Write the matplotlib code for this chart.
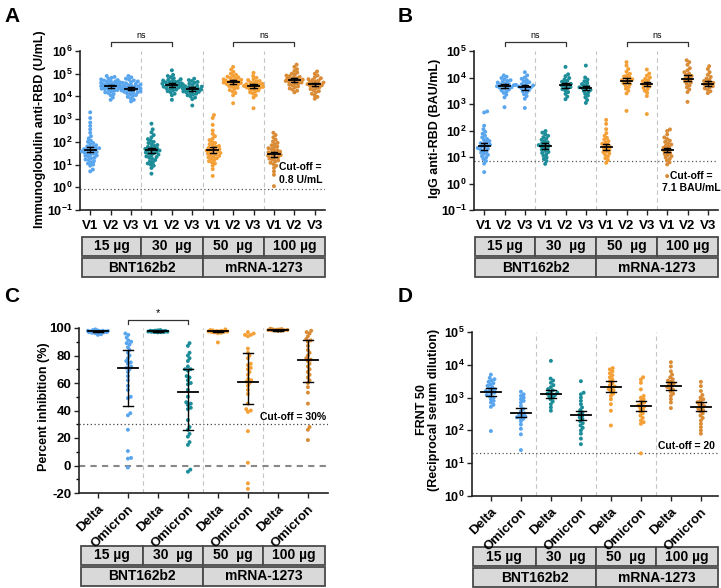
import numpy as np
import matplotlib
matplotlib.use('Agg')
import matplotlib.pyplot as plt
from matplotlib import transforms
from matplotlib.patches import Rectangle
from matplotlib.ticker import NullLocator, MultipleLocator

plt.rcParams['font.family'] = ['Liberation Sans', 'DejaVu Sans']
plt.rcParams['font.weight'] = 'bold'
plt.rcParams['mathtext.fontset'] = 'custom'
plt.rcParams['mathtext.bf'] = 'Liberation Sans:bold'
plt.rcParams['mathtext.rm'] = 'Liberation Sans:bold'

# ---------------- data ----------------
# colours per dose group
c15, c30, c50, c100 = '#5aa6ee', '#1c8d99', '#f5a036', '#d98b36'
dose_labels = ['15 µg', '30  µg', '50  µg', '100 µg']
vaccine_labels = ['BNT162b2', 'mRNA-1273']
visit_labels = ['V1', 'V2', 'V3'] * 4
variant_labels = ['Delta', 'Omicron'] * 4

# panel A, log10 of anti-RBD immunoglobulin (U/mL)
a_15_v1 = [0.70, 0.78, 0.95, 1.00, 1.05, 1.10, 1.15, 1.20, 1.22, 1.28, 1.30, 1.35, 1.38, 1.40, 1.45, 1.48, 1.50,
           1.52, 1.55, 1.58, 1.60, 1.62, 1.65, 1.68, 1.70, 1.72, 1.75, 1.78, 1.80, 1.85, 1.90, 1.95, 2.00, 2.05,
           2.15, 2.25, 2.40, 2.55, 2.70, 2.85, 3.05, 3.30]
a_15_v2 = [3.85, 3.95, 4.05, 4.10, 4.15, 4.18, 4.22, 4.25, 4.28, 4.30, 4.32, 4.34, 4.36, 4.38, 4.40, 4.41, 4.42,
           4.44, 4.45, 4.46, 4.47, 4.48, 4.50, 4.52, 4.53, 4.55, 4.57, 4.58, 4.60, 4.62, 4.64, 4.66, 4.68, 4.70,
           4.72, 4.75, 4.78, 4.82, 4.86, 4.90]
a_15_v3 = [3.78, 3.85, 3.92, 3.98, 4.02, 4.06, 4.10, 4.13, 4.16, 4.18, 4.20, 4.22, 4.24, 4.26, 4.28, 4.30, 4.32,
           4.33, 4.35, 4.36, 4.38, 4.40, 4.42, 4.44, 4.46, 4.48, 4.50, 4.52, 4.55, 4.58, 4.60, 4.63, 4.66, 4.70,
           4.74, 4.78, 4.84, 4.90]
a_30_v1 = [0.60, 0.85, 0.95, 1.00, 1.05, 1.10, 1.15, 1.20, 1.25, 1.30, 1.33, 1.36, 1.40, 1.44, 1.47, 1.50, 1.53,
           1.56, 1.59, 1.62, 1.64, 1.66, 1.69, 1.72, 1.75, 1.78, 1.82, 1.86, 1.90, 1.95, 2.00, 2.05, 2.12, 2.20,
           2.30, 2.42, 2.55, 2.80]
a_30_v2 = [3.85, 4.05, 4.12, 4.18, 4.23, 4.27, 4.30, 4.33, 4.36, 4.39, 4.41, 4.43, 4.45, 4.47, 4.49, 4.50, 4.52,
           4.54, 4.56, 4.58, 4.60, 4.62, 4.64, 4.66, 4.68, 4.70, 4.73, 4.76, 4.80, 4.85, 4.90, 4.95, 5.15]
a_30_v3 = [3.60, 3.88, 3.95, 4.00, 4.05, 4.09, 4.12, 4.15, 4.18, 4.20, 4.22, 4.24, 4.26, 4.28, 4.30, 4.32, 4.33,
           4.35, 4.37, 4.39, 4.41, 4.43, 4.45, 4.47, 4.50, 4.53, 4.56, 4.60, 4.64, 4.68, 4.72, 4.78]
a_50_v1 = [0.50, 0.80, 0.95, 1.05, 1.10, 1.15, 1.20, 1.25, 1.28, 1.32, 1.35, 1.38, 1.42, 1.45, 1.48, 1.51, 1.54,
           1.57, 1.60, 1.62, 1.65, 1.68, 1.71, 1.74, 1.78, 1.82, 1.86, 1.90, 1.95, 2.00, 2.08, 2.15, 2.25, 2.35,
           2.50, 2.75, 3.05, 3.18]
a_50_v2 = [3.70, 4.05, 4.15, 4.22, 4.28, 4.33, 4.38, 4.42, 4.46, 4.49, 4.52, 4.55, 4.57, 4.59, 4.61, 4.63, 4.65,
           4.67, 4.69, 4.71, 4.73, 4.75, 4.78, 4.81, 4.84, 4.87, 4.90, 4.95, 5.00, 5.08, 5.18, 5.30]
a_50_v3 = [3.48, 3.95, 4.05, 4.12, 4.18, 4.22, 4.26, 4.30, 4.33, 4.36, 4.38, 4.40, 4.42, 4.44, 4.46, 4.48, 4.50,
           4.52, 4.54, 4.56, 4.59, 4.62, 4.65, 4.68, 4.72, 4.76, 4.82, 4.90, 5.04]
a_100_v1 = [0.05, 0.55, 0.70, 0.85, 0.95, 1.02, 1.08, 1.14, 1.18, 1.22, 1.26, 1.30, 1.33, 1.36, 1.39, 1.42, 1.45,
            1.48, 1.51, 1.54, 1.57, 1.60, 1.64, 1.68, 1.72, 1.76, 1.80, 1.85, 1.90, 1.96, 2.02, 2.10, 2.20, 2.30,
            2.40]
a_100_v2 = [4.18, 4.25, 4.30, 4.35, 4.40, 4.44, 4.48, 4.52, 4.55, 4.58, 4.61, 4.64, 4.66, 4.68, 4.70, 4.72, 4.74,
            4.76, 4.78, 4.80, 4.83, 4.86, 4.89, 4.92, 4.96, 5.00, 5.05, 5.12, 5.20, 5.30, 5.40]
a_100_v3 = [3.90, 3.98, 4.05, 4.12, 4.18, 4.23, 4.28, 4.32, 4.36, 4.40, 4.43, 4.46, 4.49, 4.52, 4.54, 4.56, 4.58,
            4.61, 4.64, 4.67, 4.70, 4.73, 4.76, 4.80, 4.85, 4.92, 5.00, 5.10]
a_gmean = [45, 28000, 22000, 42, 32000, 21000, 42, 42000, 28000, 28, 52000, 34000]
a_lo = [35, 24000, 18500, 32, 27000, 18000, 33, 34000, 24000, 22, 44000, 28000]
a_hi = [60, 33000, 26000, 55, 38000, 25000, 57, 52000, 34000, 37, 62000, 41000]

# panel B, log10 of IgG anti-RBD (BAU/mL)
b_15_v1 = [0.43, 0.75, 0.85, 0.92, 0.98, 1.03, 1.08, 1.12, 1.16, 1.20, 1.24, 1.28, 1.31, 1.34, 1.37, 1.40, 1.43,
           1.46, 1.49, 1.52, 1.56, 1.60, 1.64, 1.68, 1.74, 1.80, 1.88, 1.95, 2.05, 2.18, 2.68, 2.72]
b_15_v2 = [2.88, 3.25, 3.35, 3.42, 3.47, 3.51, 3.55, 3.58, 3.61, 3.63, 3.65, 3.67, 3.69, 3.71, 3.73, 3.75, 3.78,
           3.81, 3.84, 3.87, 3.90, 3.94, 3.98, 4.03, 4.08]
b_15_v3 = [2.85, 3.20, 3.30, 3.37, 3.43, 3.48, 3.52, 3.56, 3.59, 3.62, 3.64, 3.66, 3.68, 3.70, 3.72, 3.75, 3.78,
           3.82, 3.86, 3.90, 3.95, 4.00, 4.08, 4.20]
b_30_v1 = [0.74, 0.85, 0.92, 0.98, 1.04, 1.10, 1.15, 1.19, 1.23, 1.27, 1.31, 1.35, 1.39, 1.42, 1.45, 1.48, 1.52,
           1.56, 1.60, 1.65, 1.70, 1.75, 1.80, 1.86, 1.92, 1.98]
b_30_v2 = [3.18, 3.28, 3.38, 3.45, 3.51, 3.56, 3.60, 3.64, 3.67, 3.70, 3.73, 3.76, 3.80, 3.84, 3.88, 3.93, 3.98,
           4.05, 4.12, 4.40]
b_30_v3 = [3.04, 3.15, 3.25, 3.32, 3.38, 3.44, 3.49, 3.53, 3.57, 3.60, 3.63, 3.67, 3.71, 3.75, 3.80, 3.86, 3.92,
           4.00, 4.45]
b_50_v1 = [0.78, 0.88, 0.95, 1.02, 1.08, 1.13, 1.18, 1.22, 1.26, 1.30, 1.34, 1.38, 1.42, 1.46, 1.50, 1.55, 1.60,
           1.66, 1.72, 1.80, 1.90, 2.05, 2.25, 2.40]
b_50_v2 = [2.74, 3.40, 3.50, 3.58, 3.64, 3.70, 3.75, 3.79, 3.83, 3.87, 3.90, 3.93, 3.96, 4.00, 4.04, 4.08, 4.14,
           4.22, 4.32, 4.45, 4.58]
b_50_v3 = [2.62, 3.30, 3.42, 3.50, 3.56, 3.61, 3.66, 3.70, 3.74, 3.78, 3.82, 3.86, 3.90, 3.95, 4.00, 4.07, 4.15,
           4.30]
b_100_v1 = [0.28, 0.72, 0.80, 0.87, 0.93, 0.98, 1.03, 1.07, 1.11, 1.15, 1.19, 1.23, 1.27, 1.31, 1.35, 1.39, 1.43,
            1.47, 1.52, 1.57, 1.62, 1.68, 1.74, 1.85, 1.98, 2.04]
b_100_v2 = [3.08, 3.45, 3.55, 3.63, 3.70, 3.76, 3.81, 3.86, 3.90, 3.94, 3.98, 4.02, 4.06, 4.10, 4.15, 4.20, 4.27,
            4.35, 4.48, 4.58, 4.65]
b_100_v3 = [3.41, 3.48, 3.54, 3.59, 3.63, 3.67, 3.71, 3.74, 3.77, 3.80, 3.83, 3.87, 3.91, 3.96, 4.02, 4.10, 4.20,
            4.32, 4.43]
b_gmean = [26, 4700, 4300, 26, 5000, 4000, 23, 7500, 5600, 18, 9000, 5800]
b_lo = [19, 3900, 3500, 20, 4100, 3300, 18, 6000, 4600, 15, 7300, 4900]
b_hi = [35, 5600, 5200, 33, 6100, 4900, 30, 10000, 6800, 22, 12000, 7300]

# panel C, percent inhibition
c_15_delta = [99.0, 98.5, 98.2, 98.0, 98.0, 97.8, 97.6, 97.5, 97.5, 97.4, 97.3, 97.2, 97.1, 97.0, 97.0, 96.8,
              96.5, 96.2, 95.5, 95.0]
c_15_omicron = [96, 95, 93, 91, 90, 89, 88, 86, 84, 82, 80, 78, 76, 75, 74, 72, 71, 70, 68, 65, 62, 58, 55, 50,
                49, 38, 36.5, 26, 10.5, 5.5, 5, -1.5]
c_30_delta = [98.5, 98.3, 98.1, 98.0, 97.9, 97.8, 97.7, 97.6, 97.5, 97.4, 97.3, 97.2, 97.1, 97.0, 96.9, 96.8]
c_30_omicron = [89, 87, 82, 80, 78, 76, 72, 70, 70, 69, 65, 64, 62, 60, 59, 55, 50, 46, 45, 44, 42, 41, 33, 28,
                26, 23, 21, 17, 15, -3, -4.5]
c_50_delta = [99.0, 98.5, 98.2, 98.0, 97.8, 97.6, 97.5, 97.4, 97.2, 97.0, 96.8, 96.5, 96.2, 89.5]
c_50_omicron = [97, 96, 95, 95, 94, 85, 82, 80, 78, 74, 73, 71, 70, 68, 66, 63, 62, 61, 60, 58, 55, 52, 45, 41,
                40, 39, 25, 2, -13, -17]
c_100_delta = [99.5, 99.2, 99.0, 98.9, 98.8, 98.6, 98.5, 98.4, 98.3, 98.2, 98.0, 97.8]
c_100_omicron = [98, 97, 96, 94, 92, 91, 90, 87, 84, 82, 80, 78, 77, 76, 74, 72, 70, 68, 66, 64, 62, 60, 57, 53,
                 45, 28, 26, 18.5]
c_median = [97.5, 71, 97.5, 53.5, 97.5, 61, 98.3, 77]
c_lo = [97.0, 43.5, 97.2, 26, 97.0, 44.5, 98.0, 60.5]
c_hi = [98.0, 84, 97.8, 70, 98.0, 81.5, 98.6, 91.5]

# panel D, log10 of FRNT50
d_15_delta = [1.98, 2.72, 2.78, 2.85, 2.90, 2.95, 3.00, 3.04, 3.08, 3.12, 3.15, 3.18, 3.20, 3.22, 3.25, 3.28,
              3.32, 3.36, 3.40, 3.44, 3.48, 3.52, 3.56, 3.60, 3.70]
d_15_omicron = [1.40, 1.88, 2.05, 2.18, 2.28, 2.35, 2.38, 2.40, 2.42, 2.45, 2.48, 2.52, 2.58, 2.65, 2.75, 2.85,
                2.90, 2.95, 3.00, 3.05, 3.10, 3.18]
d_30_delta = [2.60, 2.70, 2.80, 2.88, 2.95, 3.00, 3.04, 3.08, 3.10, 3.12, 3.15, 3.18, 3.22, 3.26, 3.32, 3.38,
              3.45, 3.52, 3.58, 4.12]
d_30_omicron = [1.58, 1.75, 1.90, 2.00, 2.08, 2.15, 2.22, 2.28, 2.35, 2.40, 2.45, 2.50, 2.55, 2.62, 2.70, 2.80,
                2.90, 3.00, 3.10, 3.15, 3.50]
d_50_delta = [2.15, 2.60, 2.80, 2.95, 3.05, 3.12, 3.18, 3.22, 3.26, 3.30, 3.34, 3.38, 3.44, 3.50, 3.56, 3.62,
              3.68, 3.74, 3.80, 3.86, 3.90]
d_50_omicron = [1.30, 2.20, 2.25, 2.30, 2.38, 2.45, 2.52, 2.58, 2.63, 2.68, 2.72, 2.76, 2.80, 2.85, 2.90, 2.95,
                3.00, 3.05, 3.25, 3.45, 3.55, 3.62]
d_100_delta = [2.68, 2.85, 2.95, 3.05, 3.12, 3.18, 3.24, 3.28, 3.32, 3.36, 3.40, 3.44, 3.48, 3.52, 3.56, 3.62,
               3.70, 3.80, 3.95, 4.08]
d_100_omicron = [1.90, 2.00, 2.10, 2.20, 2.30, 2.38, 2.45, 2.52, 2.58, 2.62, 2.66, 2.70, 2.74, 2.78, 2.82, 2.86,
                 2.90, 2.95, 3.00, 3.08, 3.20, 3.35, 3.48]
d_gmean = [1500, 350, 1300, 290, 2100, 540, 2200, 520]
d_lo = [1150, 260, 1000, 210, 1450, 390, 1650, 380]
d_hi = [2000, 490, 1700, 400, 3100, 780, 2900, 740]

# ---------------- figure ----------------
W, H = 721, 588
fig = plt.figure(figsize=(W / 100, H / 100), dpi=100)


def px_box(l, t, r, b):
    return [l / W, 1 - b / H, (r - l) / W, (b - t) / H]


def fy(py):
    return 1 - py / H


def swarm_offsets(ypix, d, maxw):
    n = len(ypix)
    xs = np.zeros(n)
    done = []
    for i in np.argsort(ypix, kind='stable'):
        y = ypix[i]
        near = [j for j in done if abs(ypix[j] - y) < d]
        cands = [0.0]
        for j in near:
            dx = np.sqrt(d * d - (ypix[j] - y) ** 2)
            cands += [xs[j] + dx, xs[j] - dx]
        cands.sort(key=abs)
        best = None
        for c in cands:
            if abs(c) > maxw:
                continue
            if all((xs[j] - c) ** 2 + (ypix[j] - y) ** 2 >= d * d - 1e-6 for j in near):
                best = c
                break
        if best is None:
            grid = np.linspace(-maxw, maxw, 17)
            best = max(grid, key=lambda c: min(np.hypot(xs[j] - c, ypix[j] - y) for j in near))
        xs[i] = best
        done.append(i)
    return xs


def draw_points(ax, groups, colors, d=3.2, maxw=9.5, s=8):
    pxu = ax.transData.transform((1, 1))[0] - ax.transData.transform((0, 1))[0]
    for k, (vals, col) in enumerate(zip(groups, colors)):
        vals = np.asarray(vals, float)
        ypix = ax.transData.transform(np.column_stack([np.full(len(vals), k), vals]))[:, 1]
        offs = swarm_offsets(ypix, d, maxw)
        ax.scatter(k + offs / pxu, vals, s=s, color=col, edgecolors='none', zorder=3, clip_on=False)


def draw_errbars(ax, centers, lows, highs, cw, capw):
    for k, (c, lo, hi) in enumerate(zip(centers, lows, highs)):
        ax.plot([k - cw / 2, k + cw / 2], [c, c], color='black', lw=1.3, zorder=5)
        ax.plot([k, k], [lo, hi], color='black', lw=1.0, zorder=5)
        for v in (lo, hi):
            ax.plot([k - capw / 2, k + capw / 2], [v, v], color='black', lw=1.0, zorder=5)


def style_axes(ax):
    for sp in ('top', 'right'):
        ax.spines[sp].set_visible(False)
    for sp in ('left', 'bottom'):
        ax.spines[sp].set_linewidth(1.2)
        ax.spines[sp].set_color('#222222')
    ax.tick_params(direction='out', length=3.5, width=1.0, color='#222222')
    ax.tick_params(axis='y', pad=2)


def separators(ax, xs):
    for x in xs:
        ax.axvline(x, color='#c4c4c4', ls=(0, (4, 3)), lw=0.8, zorder=1)


def dose_table(ax, edges, row1, row2):
    tr = transforms.blended_transform_factory(ax.transData, fig.transFigure)
    for k in range(4):
        ax.add_patch(Rectangle((edges[k], fy(row1[1])), edges[k + 1] - edges[k], fy(row1[0]) - fy(row1[1]),
                               transform=tr, facecolor='#d9d9d9', edgecolor='#4a4a4a', lw=1.3, clip_on=False))
        ax.text((edges[k] + edges[k + 1]) / 2, fy((row1[0] + row1[1]) / 2), dose_labels[k], transform=tr,
                ha='center', va='center', fontsize=10, fontweight='bold')
    for k in range(2):
        a, b = edges[2 * k], edges[2 * k + 2]
        ax.add_patch(Rectangle((a, fy(row2[1])), b - a, fy(row2[0]) - fy(row2[1]),
                               transform=tr, facecolor='#d9d9d9', edgecolor='#4a4a4a', lw=1.3, clip_on=False))
        ax.text((a + b) / 2, fy((row2[0] + row2[1]) / 2), vaccine_labels[k], transform=tr,
                ha='center', va='center', fontsize=10, fontweight='bold')


def bracket(ax, x1, x2, py, label, fs=6.5):
    tr = transforms.blended_transform_factory(ax.transData, fig.transFigure)
    ax.plot([x1, x1, x2, x2], [fy(py + 4), fy(py), fy(py), fy(py + 4)], color='#333333', lw=0.9,
            transform=tr, clip_on=False)
    ax.text((x1 + x2) / 2, fy(py - 1.5), label, transform=tr, ha='center', va='bottom', fontsize=fs,
            fontweight='normal')


def log_ticks(ax, lo, hi):
    ax.set_yscale('log')
    ax.set_ylim(10.0 ** lo, 10.0 ** hi)
    ax.set_yticks([10.0 ** e for e in range(lo, hi + 1)])
    ax.set_yticklabels([r'$\mathbf{10^{%d}}$' % e for e in range(lo, hi + 1)], fontsize=9)
    ax.yaxis.set_minor_locator(NullLocator())


colors12 = [c15] * 3 + [c30] * 3 + [c50] * 3 + [c100] * 3
colors8 = [c15] * 2 + [c30] * 2 + [c50] * 2 + [c100] * 2

# ---- panel A ----
axA = fig.add_axes(px_box(80, 51, 325, 210))
style_axes(axA)
axA.set_xlim(-0.5, 11.5)
log_ticks(axA, -1, 6)
axA.set_xticks(range(12))
axA.set_xticklabels(visit_labels, fontsize=9.5, fontweight='bold')
separators(axA, [2.5, 5.5, 8.5])
axA.axhline(0.8, color='#555555', ls=(0, (1, 2)), lw=0.9, zorder=1)
a_groups = [a_15_v1, a_15_v2, a_15_v3, a_30_v1, a_30_v2, a_30_v3,
            a_50_v1, a_50_v2, a_50_v3, a_100_v1, a_100_v2, a_100_v3]
draw_points(axA, [10.0 ** np.array(g) for g in a_groups], colors12)
draw_errbars(axA, a_gmean, a_lo, a_hi, 0.55, 0.3)
axA.text(10.3, 0.8 * 1.6, 'Cut-off =\n0.8 U/mL', ha='center', va='bottom', fontsize=7.5, linespacing=1.3)
bracket(axA, 1, 4, 42, 'ns')
bracket(axA, 7, 10, 42, 'ns')
dose_table(axA, [-0.4, 2.5, 5.5, 8.5, 11.5], (237, 256), (258, 277))

# ---- panel B ----
axB = fig.add_axes(px_box(474, 51, 718, 210))
style_axes(axB)
axB.set_xlim(-0.5, 11.5)
log_ticks(axB, -1, 5)
axB.set_xticks(range(12))
axB.set_xticklabels(visit_labels, fontsize=9.5, fontweight='bold')
separators(axB, [2.5, 5.5, 8.5])
axB.axhline(7.1, color='#555555', ls=(0, (1, 2)), lw=0.9, zorder=1)
b_groups = [b_15_v1, b_15_v2, b_15_v3, b_30_v1, b_30_v2, b_30_v3,
            b_50_v1, b_50_v2, b_50_v3, b_100_v1, b_100_v2, b_100_v3]
draw_points(axB, [10.0 ** np.array(g) for g in b_groups], colors12)
draw_errbars(axB, b_gmean, b_lo, b_hi, 0.55, 0.3)
axB.text(10.2, 1.15, 'Cut-off =\n7.1 BAU/mL', ha='center', va='center', fontsize=7.5, linespacing=1.3)
bracket(axB, 1, 4, 42, 'ns')
bracket(axB, 7, 10, 42, 'ns')
dose_table(axB, [-0.45, 2.5, 5.5, 8.5, 11.5], (237, 256), (258, 277))

# ---- panel C ----
axC = fig.add_axes(px_box(79, 328, 328, 493))
style_axes(axC)
axC.set_xlim(-0.63, 7.67)
axC.set_ylim(-20, 100)
axC.set_yticks(range(-20, 101, 20))
axC.set_yticklabels([str(v) for v in range(-20, 101, 20)], fontsize=9.5, fontweight='bold')
axC.yaxis.set_minor_locator(MultipleLocator(10))
axC.tick_params(axis='y', which='minor', length=2, width=1.0)
axC.set_xticks(range(8))
axC.set_xticklabels(variant_labels, fontsize=9.5, fontweight='bold', rotation=45, ha='right',
                    rotation_mode='anchor')
separators(axC, [1.5, 3.5, 5.5])
axC.axhline(30, color='#444444', ls=(0, (1, 2)), lw=0.9, zorder=1)
axC.axhline(0, color='#888888', ls=(0, (3, 2.5)), lw=1.5, zorder=1)
c_groups = [c_15_delta, c_15_omicron, c_30_delta, c_30_omicron,
            c_50_delta, c_50_omicron, c_100_delta, c_100_omicron]
draw_points(axC, c_groups, colors8, d=3.2, maxw=10)
draw_errbars(axC, c_median, c_lo, c_hi, 0.66, 0.36)
axC.text(7.6, 31.5, 'Cut-off = 30%', ha='right', va='bottom', fontsize=7.5)
bracket(axC, 1, 3, 320, '*', fs=8)
dose_table(axC, [-0.57, 1.5, 3.5, 5.5, 7.57], (546, 565), (567, 586))

# ---- panel D ----
axD = fig.add_axes(px_box(472, 332, 718, 496))
style_axes(axD)
axD.set_xlim(-0.63, 7.57)
log_ticks(axD, 0, 5)
axD.set_xticks(range(8))
axD.set_xticklabels(variant_labels, fontsize=9.5, fontweight='bold', rotation=45, ha='right',
                    rotation_mode='anchor')
separators(axD, [1.5, 3.5, 5.5])
axD.axhline(20, color='#555555', ls=(0, (1, 2)), lw=0.9, zorder=1)
d_groups = [d_15_delta, d_15_omicron, d_30_delta, d_30_omicron,
            d_50_delta, d_50_omicron, d_100_delta, d_100_omicron]
draw_points(axD, [10.0 ** np.array(g) for g in d_groups], colors8, d=3.2, maxw=9)
draw_errbars(axD, d_gmean, d_lo, d_hi, 0.66, 0.36)
axD.text(7.45, 23, 'Cut-off = 20', ha='right', va='bottom', fontsize=7.5)
dose_table(axD, [-0.6, 1.5, 3.5, 5.5, 7.57], (547, 566), (568, 587))

# ---- labels ----
fig.text(40 / W, fy(129), 'Immunoglobulin anti-RBD (U/mL)', rotation=90, ha='center', va='center',
         fontsize=9, fontweight='bold')
fig.text(435 / W, fy(128), 'IgG anti-RBD (BAU/mL)', rotation=90, ha='center', va='center',
         fontsize=9, fontweight='bold')
fig.text(44 / W, fy(407), 'Percent inhibition (%)', rotation=90, ha='center', va='center',
         fontsize=9, fontweight='bold')
fig.text(428 / W, fy(410), 'FRNT 50\n(Reciprocal serum dilution)', rotation=90, ha='center', va='center',
         fontsize=9, fontweight='bold', linespacing=1.05)
for lab, x, y in [('A', 4, 16), ('B', 398, 16), ('C', 4, 297), ('D', 398, 297)]:
    fig.text(x / W, fy(y), lab, ha='left', va='center', fontsize=15, fontweight='bold')

fig.savefig('out.png', dpi=100)
